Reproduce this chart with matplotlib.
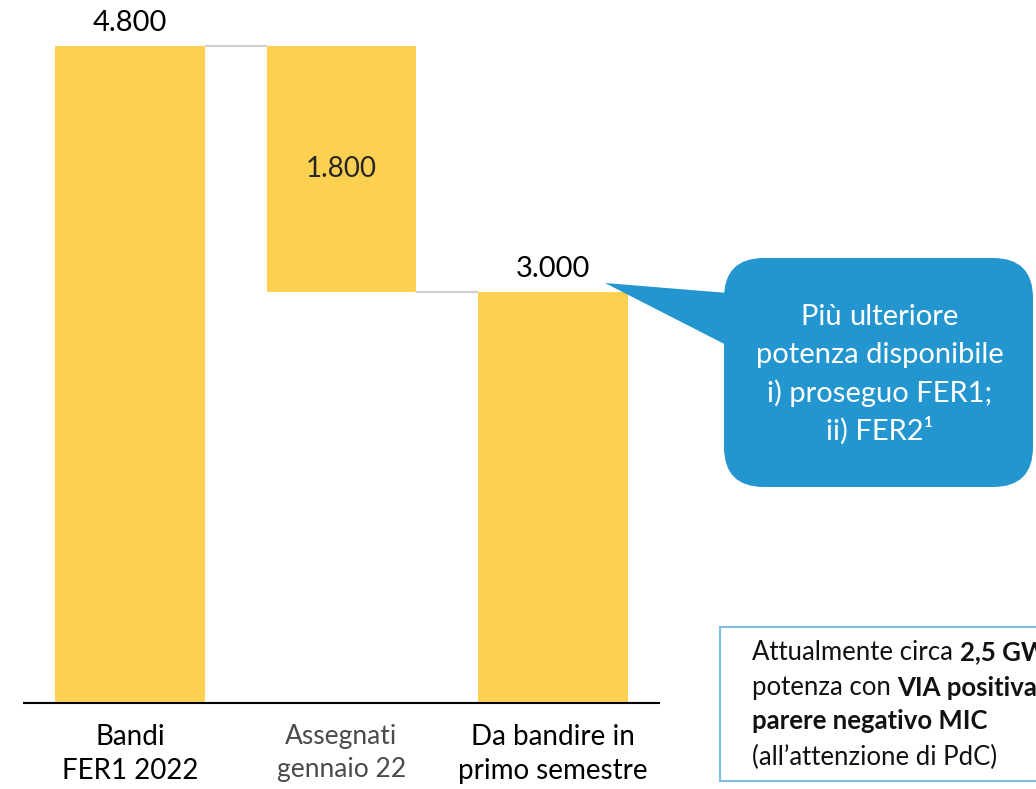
import matplotlib.pyplot as plt
from matplotlib.patches import FancyBboxPatch, Polygon, Rectangle

# waterfall data
categories = ["Bandi\nFER1 2022", "Assegnati\ngennaio 22", "Da bandire in\nprimo semestre"]
values = [4800, -1800, 3000]
value_labels = ["4.800", "1.800", "3.000"]

bubble_lines = [[("Più ", "normal"), ("ulteriore", "normal")],
                [("potenza disponibile", "normal")],
                [("i) proseguo FER1;", "normal")],
                [("ii) FER2¹", "normal")]]
note_lines = [[("Attualmente circa ", "normal"), ("2,5 GW di", "bold")],
              [("potenza con ", "normal"), ("VIA positiva e", "bold")],
              [("parere negativo MIC", "bold")],
              [("(all’attenzione di PdC)", "normal")]]

GOLD = "#FDD052"
BLUE = "#2396D0"
W, H = 1036, 789
FONT = ["Lato", "DejaVu Sans"]

plt.rcParams["font.family"] = FONT
fig = plt.figure(figsize=(W / 100, H / 100), dpi=100)

# main axes: spine from x=24..659 px, baseline at y=703 px
ax = fig.add_axes([24 / W, 1 - 703 / H, 635 / W, 703 / H])
ax.set_xlim(-0.5, 2.5)
ax.set_ylim(0, 4800 * 703 / 657)

width = 0.708
bottoms = [0, values[0] + values[1], 0]
heights = [values[0], -values[1], values[2]]
ax.bar(range(3), heights, bottom=bottoms, width=width, color=GOLD, zorder=2)

# connectors
ax.plot([width / 2 + 0.005, 1 - width / 2 - 0.005], [values[0], values[0]],
        color="#D0D0D0", lw=1.6, zorder=1)
lvl = values[0] + values[1]
ax.plot([1 + width / 2 + 0.005, 2 - width / 2 - 0.005], [lvl, lvl],
        color="#D0D0D0", lw=1.6, zorder=1)

ax.text(0, values[0] + 170, value_labels[0], ha="center", va="center", fontsize=21)
ax.text(1, lvl + (-values[1]) / 2, value_labels[1], ha="center", va="center",
        fontsize=20, color="#262626")
ax.text(2, values[2] + 170, value_labels[2], ha="center", va="center", fontsize=21)

for s in ["top", "right", "left"]:
    ax.spines[s].set_visible(False)
ax.spines["bottom"].set_linewidth(1.5)
ax.set_yticks([])
ax.set_xticks(range(3))
ax.set_xticklabels(categories, fontsize=20, linespacing=1.4)
ax.tick_params(axis="x", length=0, pad=15)
lbls = ax.get_xticklabels()
lbls[1].set_color("#4a4a4a")
lbls[1].set_fontsize(19)

# overlay in pixel coordinates
ov = fig.add_axes([0, 0, 1, 1])
ov.set_xlim(0, W)
ov.set_ylim(H, 0)
ov.axis("off")

ov.add_patch(Polygon([(605, 283), (740, 294), (740, 352)], closed=True,
                     color=BLUE, lw=0))
ov.add_patch(FancyBboxPatch((764, 298), 229, 149, boxstyle="round,pad=40",
                            color=BLUE, lw=0))
ov.add_patch(Rectangle((720, 627), 400, 154, facecolor="white",
                       edgecolor="#7FBFE6", lw=1.5))

fig.canvas.draw()
rend = fig.canvas.get_renderer()


def piece_widths(line, size):
    ws = []
    for txt, wt in line:
        t = ov.text(0, 0, txt, fontsize=size, fontweight=wt)
        bb = t.get_window_extent(rend)
        ws.append(bb.width)
        t.remove()
    return ws


def draw_line(line, x, y, size, color, center):
    ws = piece_widths(line, size)
    x0 = x - sum(ws) / 2 if center else x
    for (txt, wt), w in zip(line, ws):
        ov.text(x0, y, txt, fontsize=size, fontweight=wt, color=color,
                va="center", ha="left")
        x0 += w


for i, line in enumerate(bubble_lines):
    draw_line(line, 880, 317 + i * 38, 21, "white", True)

note_y = [652, 688, 721, 757]
for line, y in zip(note_lines, note_y):
    draw_line(line, 752, y, 18.5, "#111111", False)

fig.savefig("out.png", dpi=100)
